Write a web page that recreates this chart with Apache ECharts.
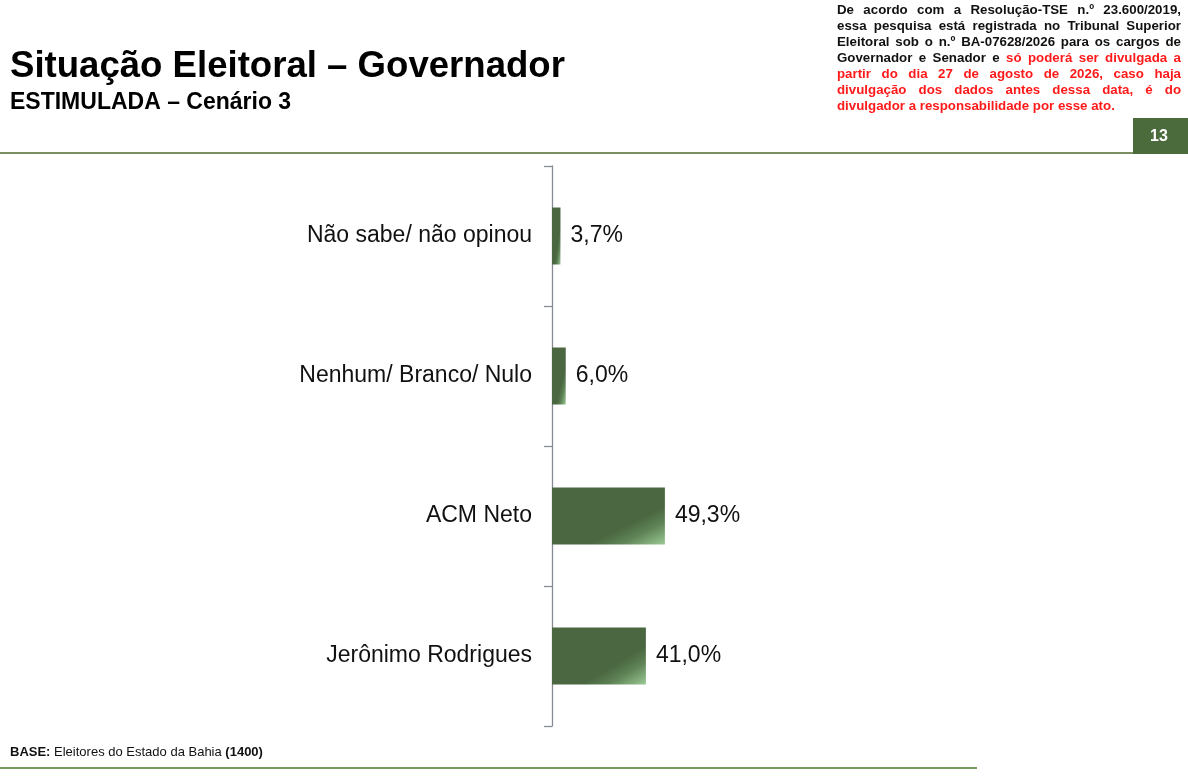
<!DOCTYPE html>
<html>
<head>
<meta charset="utf-8">
<script src="https://cdn.jsdelivr.net/npm/echarts@6/dist/echarts.min.js"></script>
<style>
  html, body { margin: 0; padding: 0; background: #fff; }
  #grafico { width: 1188px; height: 781px; }
</style>
</head>
<body>
<div id="grafico"></div>
<script>
// dados
var categorias = ['Não sabe/ não opinou', 'Nenhum/ Branco/ Nulo', 'ACM Neto', 'Jerônimo Rodrigues'];
var valores = [3.7, 6.0, 49.3, 41.0];

var fonte = '"Liberation Sans", Arial, sans-serif';
var verde = '#4b6b3c';
var larguraGrid = 229;   // px para 100%
var alturaBarra = 57;

// texto da nota (preto / vermelho), justificado como no slide
var PRETO = '#111', VERMELHO = '#ff1a1a';
var notaLinhas = [
    [['De acordo com a Resolução-TSE n.º 23.600/2019,', PRETO]],
    [['essa pesquisa está registrada no Tribunal Superior', PRETO]],
    [['Eleitoral sob o n.º BA-07628/2026 para os cargos de', PRETO]],
    [['Governador e Senador e', PRETO], ['só poderá ser divulgada a', VERMELHO]],
    [['partir do dia 27 de agosto de 2026, caso haja', VERMELHO]],
    [['divulgação dos dados antes dessa data, é do', VERMELHO]],
    [['divulgador a responsabilidade por esse ato.', VERMELHO]]
];

function notaJustificada(x0, largura, y0, passo, font) {
    var ctx = document.createElement('canvas').getContext('2d');
    ctx.font = font;
    var espaco = ctx.measureText(' ').width;
    var els = [];
    notaLinhas.forEach(function (linha, i) {
        var palavras = [];
        linha.forEach(function (seg) {
            seg[0].split(' ').forEach(function (p) {
                palavras.push({ t: p, c: seg[1], w: ctx.measureText(p).width });
            });
        });
        var total = palavras.reduce(function (s, p) { return s + p.w; }, 0);
        var ultima = i === notaLinhas.length - 1;
        var gap = ultima ? espaco : (largura - total) / (palavras.length - 1);
        var x = x0;
        palavras.forEach(function (p) {
            els.push({
                type: 'text', x: x, y: y0 + i * passo,
                style: { text: p.t, font: font, fill: p.c, verticalAlign: 'middle' }
            });
            x += p.w + gap;
        });
    });
    return els;
}

// degradê da barra: escuro com canto inferior direito claro
function corBarra(params) {
    var w = Math.max(params.value * larguraGrid / 100, 1);
    var h = alturaBarra;
    var k = h * h + w * w;
    return new echarts.graphic.LinearGradient(0, 0, 2 * h * h / k, 2 * w * w / k, [
        { offset: 0, color: '#4a6741' },
        { offset: 0.66, color: '#4a6741' },
        { offset: 0.8, color: '#5f8356' },
        { offset: 1, color: '#9bca95' }
    ]);
}

var grafico = echarts.init(document.getElementById('grafico'));
var opcao = {
    animation: false,
    textStyle: { fontFamily: fonte },
    grid: { left: 552, top: 166, width: larguraGrid, height: 560 },
    xAxis: { type: 'value', min: 0, max: 100, show: false },
    yAxis: {
        type: 'category',
        inverse: true,
        data: categorias,
        axisLine: { lineStyle: { color: '#868b94', width: 1.3 } },
        axisTick: { show: true, length: 8, lineStyle: { color: '#868b94', width: 1.3 } },
        axisLabel: { fontSize: 23, color: '#111', margin: 20, fontFamily: fonte }
    },
    series: [
        {
            type: 'bar',
            data: valores,
            barWidth: alturaBarra,
            itemStyle: { color: corBarra },
            label: {
                show: true,
                position: 'right',
                distance: 10,
                fontSize: 23,
                color: '#111',
                fontFamily: fonte,
                formatter: function (p) {
                    return p.value.toFixed(1).replace('.', ',') + '%';
                }
            }
        }
    ],
    graphic: [
        // titulo
        {
            type: 'text', x: 10, y: 67,
            style: { text: 'Situação Eleitoral – Governador', font: 'bold 36.6px ' + fonte, fill: '#000', verticalAlign: 'middle' }
        },
        {
            type: 'text', x: 10, y: 103,
            style: { text: 'ESTIMULADA – Cenário 3', font: 'bold 23px ' + fonte, fill: '#000', verticalAlign: 'middle' }
        },
        // linha do cabecalho e numero da pagina
        {
            type: 'line', shape: { x1: 0, y1: 153, x2: 1133, y2: 153 },
            style: { stroke: '#4f6a2e', lineWidth: 1.5 }
        },
        {
            type: 'rect', shape: { x: 1133, y: 118, width: 55, height: 36 },
            style: { fill: verde }
        },
        {
            type: 'text', x: 1159, y: 137,
            style: { text: '13', font: 'bold 16px ' + fonte, fill: '#fff', align: 'center', verticalAlign: 'middle' }
        },
        // rodape
        {
            type: 'text', x: 10, y: 752,
            style: {
                text: '{b|BASE:} Eleitores do Estado da Bahia {b|(1400)}',
                font: '13px ' + fonte,
                fill: '#111',
                verticalAlign: 'middle',
                rich: { b: { font: 'bold 13px ' + fonte, fill: '#111' } }
            }
        },
        {
            type: 'line', shape: { x1: 0, y1: 768, x2: 977, y2: 768 },
            style: { stroke: '#4a7a2a', lineWidth: 1.5 }
        }
    ].concat(notaJustificada(837, 344, 10, 16, 'bold 13.3px "Liberation Sans", Arial, sans-serif'))
};
grafico.setOption(opcao);
window.addEventListener('resize', function () {
    grafico.resize();
});
</script>
</body>
</html>
